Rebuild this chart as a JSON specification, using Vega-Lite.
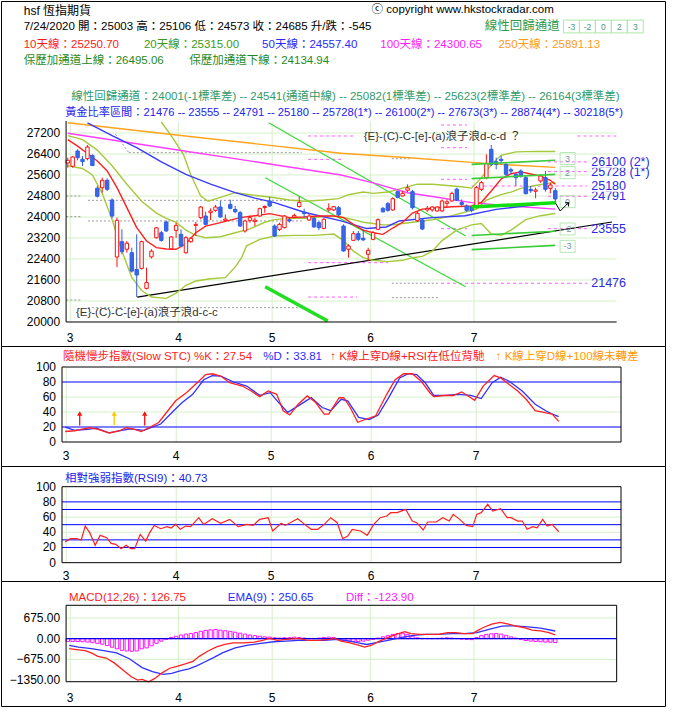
{
"$schema":"https://vega.github.io/schema/vega-lite/v6.json",
"padding":0,
"spacing":0,
"bounds":"flush",
"background":"#ffffff",
"config":{"view":{"stroke":"#000000","strokeWidth":1},"axis":{"disable":true,"domain":false,"ticks":false,"labels":false,"grid":false,"title":null},"legend":{"disable":true},"text":{"font":"Liberation Sans, Noto Sans CJK TC"}},
"resolve":{"scale":{"x":"independent","y":"independent","color":"independent"}},
"datasets":{
"one":[{"k":1}],
"months":[{"i":0.5,"m":"3"},{"i":22.5,"m":"4"},{"i":41.5,"m":"5"},{"i":61.5,"m":"6"},{"i":82.5,"m":"7"}],
"candles":[
{"i":0,"o":26057,"h":26260,"l":25880,"c":26159},{"i":1,"o":25930,"h":26320,"l":25880,"c":26286},{"i":2,"o":26514,"h":26580,"l":26160,"c":26260},{"i":3,"o":26200,"h":26320,"l":25940,"c":26110},{"i":4,"o":26222,"h":26740,"l":26160,"c":26667},{"i":5,"o":26340,"h":26390,"l":25940,"c":25960},{"i":6,"o":25090,"h":25180,"l":24740,"c":24790},{"i":7,"o":25117,"h":25500,"l":24930,"c":25397},{"i":8,"o":25400,"h":25470,"l":24990,"c":25054},{"i":9,"o":24648,"h":24710,"l":23950,"c":24038},
{"i":10,"o":22476,"h":23975,"l":22095,"c":23873},{"i":11,"o":23060,"h":23530,"l":22580,"c":22680},{"i":12,"o":22770,"h":23085,"l":22640,"c":23000},{"i":13,"o":22640,"h":22830,"l":21880,"c":21940},{"i":14,"o":22000,"h":23340,"l":20950,"c":21790},{"i":15,"o":22044,"h":23100,"l":22000,"c":23060},{"i":16,"o":21280,"h":22070,"l":21240,"c":21500},{"i":17,"o":22480,"h":22770,"l":22420,"c":22700},{"i":18,"o":23210,"h":23620,"l":23180,"c":23590},{"i":19,"o":23400,"h":23470,"l":23060,"c":23110},
{"i":20,"o":23810,"h":23870,"l":23430,"c":23470},{"i":21,"o":22790,"h":23280,"l":22760,"c":23240},{"i":22,"o":23490,"h":23780,"l":23210,"c":23680},{"i":23,"o":23340,"h":23530,"l":22860,"c":22895},{"i":24,"o":22640,"h":23276,"l":22600,"c":23213},{"i":25,"o":23060,"h":23240,"l":23020,"c":23187},{"i":26,"o":23680,"h":23810,"l":23276,"c":23720},{"i":27,"o":23975,"h":24420,"l":23910,"c":24381},{"i":28,"o":24038,"h":24200,"l":23690,"c":23720},{"i":29,"o":24165,"h":24330,"l":23880,"c":24230},
{"i":30,"o":24254,"h":24460,"l":24200,"c":24381},{"i":31,"o":24381,"h":24610,"l":23975,"c":24000},{"i":32,"o":23870,"h":24100,"l":23830,"c":23920},{"i":33,"o":24480,"h":24660,"l":24290,"c":24330},{"i":34,"o":24290,"h":24420,"l":24140,"c":24200},{"i":35,"o":24165,"h":24230,"l":23620,"c":23657},{"i":36,"o":23467,"h":23900,"l":23403,"c":23848},{"i":37,"o":23870,"h":24060,"l":23780,"c":23975},{"i":38,"o":23830,"h":23975,"l":23657,"c":23880},{"i":39,"o":24038,"h":24355,"l":24010,"c":24317},
{"i":40,"o":24360,"h":24440,"l":24165,"c":24400},{"i":41,"o":24610,"h":24760,"l":24380,"c":24420},{"i":42,"o":23657,"h":23720,"l":23240,"c":23276},{"i":43,"o":23530,"h":23784,"l":23467,"c":23720},{"i":44,"o":23594,"h":24076,"l":23568,"c":24038},{"i":45,"o":23900,"h":24000,"l":23784,"c":23850},{"i":46,"o":24000,"h":24130,"l":23950,"c":24060},{"i":47,"o":24400,"h":24780,"l":24355,"c":24550},{"i":48,"o":24190,"h":24317,"l":23975,"c":24130},{"i":49,"o":23886,"h":24130,"l":23848,"c":24038},
{"i":50,"o":23950,"h":24000,"l":23594,"c":23620},{"i":51,"o":23784,"h":23870,"l":23500,"c":23594},{"i":52,"o":23568,"h":23950,"l":23530,"c":23911},{"i":53,"o":24270,"h":24520,"l":24200,"c":24330},{"i":54,"o":24266,"h":24420,"l":24230,"c":24394},{"i":55,"o":24355,"h":24420,"l":24038,"c":24076},{"i":56,"o":23657,"h":23720,"l":22680,"c":22705},{"i":57,"o":22770,"h":22960,"l":22450,"c":22895},{"i":58,"o":23111,"h":23467,"l":23086,"c":23365},{"i":59,"o":23365,"h":23467,"l":23086,"c":23150},
{"i":60,"o":23190,"h":23530,"l":23086,"c":23130},{"i":61,"o":22580,"h":22830,"l":22324,"c":22730},{"i":62,"o":23150,"h":23467,"l":23111,"c":23403},{"i":63,"o":23530,"h":23950,"l":23494,"c":23898},{"i":64,"o":24330,"h":24381,"l":24165,"c":24200},{"i":65,"o":24508,"h":24570,"l":24200,"c":24254},{"i":66,"o":24267,"h":24750,"l":24240,"c":24698},{"i":67,"o":24965,"h":25000,"l":24710,"c":24748},{"i":68,"o":24800,"h":24990,"l":24780,"c":24900},{"i":69,"o":25020,"h":25240,"l":24950,"c":25110},
{"i":70,"o":24965,"h":25030,"l":24290,"c":24355},{"i":71,"o":23860,"h":24230,"l":23810,"c":24140},{"i":72,"o":23886,"h":23950,"l":23500,"c":23543},{"i":73,"o":24270,"h":24420,"l":24200,"c":24330},{"i":74,"o":24270,"h":24420,"l":24200,"c":24381},{"i":75,"o":24230,"h":24420,"l":24200,"c":24380},{"i":76,"o":24230,"h":24670,"l":24200,"c":24610},{"i":77,"o":24520,"h":24670,"l":24355,"c":24580},{"i":78,"o":24610,"h":24965,"l":24580,"c":24900},{"i":79,"o":25060,"h":25117,"l":24610,"c":24640},
{"i":80,"o":24550,"h":24670,"l":24381,"c":24480},{"i":81,"o":24420,"h":24480,"l":24200,"c":24254},{"i":82,"o":24380,"h":24420,"l":24180,"c":24250},{"i":83,"o":24381,"h":25180,"l":24330,"c":25117},{"i":84,"o":25054,"h":25371,"l":24990,"c":25308},{"i":85,"o":25498,"h":26387,"l":25435,"c":26032},{"i":86,"o":26578,"h":26743,"l":25943,"c":26006},{"i":87,"o":26108,"h":26260,"l":25815,"c":26006},{"i":88,"o":26200,"h":26330,"l":26006,"c":26150},{"i":89,"o":26006,"h":26070,"l":25498,"c":25625},
{"i":90,"o":25800,"h":25880,"l":25625,"c":25750},{"i":91,"o":25625,"h":25690,"l":25181,"c":25498},{"i":92,"o":25752,"h":25815,"l":25498,"c":25562},{"i":93,"o":25498,"h":25562,"l":24860,"c":24889},{"i":94,"o":25054,"h":25181,"l":24920,"c":25000},{"i":95,"o":24980,"h":25117,"l":24711,"c":25030},{"i":96,"o":25371,"h":25625,"l":25308,"c":25562},{"i":97,"o":25498,"h":25752,"l":24965,"c":25054},{"i":98,"o":25092,"h":25308,"l":24900,"c":25219},{"i":99,"o":25003,"h":25106,"l":24573,"c":24685}
],
"ma":[
{"s":"bbu","i":19,"v":27620},{"s":"bbu","i":21,"v":27100},{"s":"bbu","i":23.5,"v":26380},{"s":"bbu","i":25,"v":25600},{"s":"bbu","i":27,"v":24800},{"s":"bbu","i":28.5,"v":24600},{"s":"bbu","i":31,"v":24750},{"s":"bbu","i":34,"v":24926},{"s":"bbu","i":37,"v":24850},{"s":"bbu","i":41,"v":24760},{"s":"bbu","i":45,"v":24650},{"s":"bbu","i":48,"v":24600},{"s":"bbu","i":52,"v":24650},{"s":"bbu","i":55,"v":24700},{"s":"bbu","i":57,"v":24850},{"s":"bbu","i":60,"v":24950},{"s":"bbu","i":62,"v":24900},{"s":"bbu","i":65,"v":24950},{"s":"bbu","i":68,"v":25100},{"s":"bbu","i":71,"v":25250},{"s":"bbu","i":74,"v":25250},{"s":"bbu","i":77,"v":25200},{"s":"bbu","i":80,"v":25150},{"s":"bbu","i":82,"v":25100},{"s":"bbu","i":84,"v":25500},{"s":"bbu","i":86,"v":26000},{"s":"bbu","i":88,"v":26350},{"s":"bbu","i":91,"v":26480},{"s":"bbu","i":95,"v":26500},{"s":"bbu","i":99,"v":26495},
{"s":"bbl","i":0,"v":25950},{"s":"bbl","i":3,"v":25850},{"s":"bbl","i":5,"v":25600},{"s":"bbl","i":7,"v":24900},{"s":"bbl","i":9,"v":23900},{"s":"bbl","i":11,"v":22700},{"s":"bbl","i":13,"v":21700},{"s":"bbl","i":15,"v":21200},{"s":"bbl","i":17,"v":20950},{"s":"bbl","i":20,"v":20900},{"s":"bbl","i":22,"v":21100},{"s":"bbl","i":24,"v":21400},{"s":"bbl","i":26,"v":21560},{"s":"bbl","i":29,"v":21650},{"s":"bbl","i":32,"v":21690},{"s":"bbl","i":34,"v":22100},{"s":"bbl","i":35.3,"v":22450},{"s":"bbl","i":36.3,"v":22900},{"s":"bbl","i":39,"v":23150},{"s":"bbl","i":42,"v":23276},{"s":"bbl","i":46,"v":23300},{"s":"bbl","i":50,"v":23300},{"s":"bbl","i":54,"v":23350},{"s":"bbl","i":56,"v":23100},{"s":"bbl","i":58,"v":22700},{"s":"bbl","i":60,"v":22450},{"s":"bbl","i":62,"v":22350},{"s":"bbl","i":65,"v":22300},{"s":"bbl","i":68,"v":22350},{"s":"bbl","i":70,"v":22450},{"s":"bbl","i":72,"v":22500},{"s":"bbl","i":74,"v":22700},{"s":"bbl","i":76,"v":23100},{"s":"bbl","i":79,"v":23500},{"s":"bbl","i":82,"v":23700},{"s":"bbl","i":84,"v":23750},{"s":"bbl","i":86,"v":23350},{"s":"bbl","i":88,"v":23300},{"s":"bbl","i":90,"v":23500},{"s":"bbl","i":93,"v":23900},{"s":"bbl","i":96,"v":24050},{"s":"bbl","i":99,"v":24135},
{"s":"ma20","i":0,"v":27100},{"s":"ma20","i":3,"v":26950},{"s":"ma20","i":6,"v":26550},{"s":"ma20","i":9,"v":25950},{"s":"ma20","i":12,"v":25250},{"s":"ma20","i":15,"v":24600},{"s":"ma20","i":18,"v":24150},{"s":"ma20","i":20,"v":23950},{"s":"ma20","i":22,"v":23800},{"s":"ma20","i":24,"v":23500},{"s":"ma20","i":26,"v":23300},{"s":"ma20","i":28,"v":23210},{"s":"ma20","i":31,"v":23250},{"s":"ma20","i":34,"v":23400},{"s":"ma20","i":37,"v":23550},{"s":"ma20","i":40,"v":23800},{"s":"ma20","i":42,"v":23900},{"s":"ma20","i":45,"v":23950},{"s":"ma20","i":48,"v":23950},{"s":"ma20","i":51,"v":24000},{"s":"ma20","i":54,"v":24050},{"s":"ma20","i":56,"v":23980},{"s":"ma20","i":58,"v":23900},{"s":"ma20","i":60,"v":23800},{"s":"ma20","i":62,"v":23750},{"s":"ma20","i":64,"v":23700},{"s":"ma20","i":66,"v":23700},{"s":"ma20","i":68,"v":23750},{"s":"ma20","i":70,"v":23800},{"s":"ma20","i":72,"v":23850},{"s":"ma20","i":75,"v":23920},{"s":"ma20","i":78,"v":24050},{"s":"ma20","i":81,"v":24200},{"s":"ma20","i":83,"v":24300},{"s":"ma20","i":85,"v":24640},{"s":"ma20","i":88,"v":24850},{"s":"ma20","i":90,"v":24950},{"s":"ma20","i":92,"v":25090},{"s":"ma20","i":95,"v":25200},{"s":"ma20","i":97,"v":25270},{"s":"ma20","i":99,"v":25315},
{"s":"ma250","i":0,"v":27590},{"s":"ma250","i":27.5,"v":27010},{"s":"ma250","i":55.5,"v":26430},{"s":"ma250","i":70,"v":26250},{"s":"ma250","i":82,"v":26080},{"s":"ma250","i":90,"v":25980},{"s":"ma250","i":99,"v":25891},
{"s":"ma100","i":0,"v":27190},{"s":"ma100","i":20,"v":26620},{"s":"ma100","i":40,"v":26050},{"s":"ma100","i":55.5,"v":25600},{"s":"ma100","i":62,"v":25300},{"s":"ma100","i":69,"v":24926},{"s":"ma100","i":75,"v":24750},{"s":"ma100","i":82,"v":24546},{"s":"ma100","i":90,"v":24420},{"s":"ma100","i":99,"v":24300},
{"s":"ma50","i":4,"v":27590},{"s":"ma50","i":9,"v":27100},{"s":"ma50","i":14,"v":26640},{"s":"ma50","i":19,"v":26100},{"s":"ma50","i":24,"v":25625},{"s":"ma50","i":29,"v":25250},{"s":"ma50","i":34,"v":24926},{"s":"ma50","i":38,"v":24720},{"s":"ma50","i":42,"v":24546},{"s":"ma50","i":48,"v":24180},{"s":"ma50","i":55.5,"v":23850},{"s":"ma50","i":60.7,"v":23560},{"s":"ma50","i":64.7,"v":23620},{"s":"ma50","i":67.3,"v":23848},{"s":"ma50","i":74,"v":23975},{"s":"ma50","i":80.7,"v":24050},{"s":"ma50","i":87,"v":24290},{"s":"ma50","i":99,"v":24557},
{"s":"ma10","i":0,"v":26950},{"s":"ma10","i":2,"v":26700},{"s":"ma10","i":4,"v":26420},{"s":"ma10","i":6,"v":26133},{"s":"ma10","i":8,"v":25752},{"s":"ma10","i":10,"v":25117},{"s":"ma10","i":12,"v":24355},{"s":"ma10","i":14,"v":23594},{"s":"ma10","i":16,"v":23086},{"s":"ma10","i":18,"v":22832},{"s":"ma10","i":20,"v":22780},{"s":"ma10","i":22,"v":22770},{"s":"ma10","i":24,"v":22980},{"s":"ma10","i":26,"v":23400},{"s":"ma10","i":28,"v":23650},{"s":"ma10","i":31,"v":23784},{"s":"ma10","i":35,"v":23975},{"s":"ma10","i":38,"v":24050},{"s":"ma10","i":41,"v":24130},{"s":"ma10","i":43,"v":24050},{"s":"ma10","i":45,"v":23975},{"s":"ma10","i":48,"v":24000},{"s":"ma10","i":51,"v":24038},{"s":"ma10","i":54,"v":24040},{"s":"ma10","i":56,"v":23975},{"s":"ma10","i":58,"v":23720},{"s":"ma10","i":60,"v":23500},{"s":"ma10","i":62,"v":23400},{"s":"ma10","i":64,"v":23340},{"s":"ma10","i":66,"v":23580},{"s":"ma10","i":68,"v":23800},{"s":"ma10","i":70,"v":24150},{"s":"ma10","i":72,"v":24300},{"s":"ma10","i":75,"v":24350},{"s":"ma10","i":78,"v":24390},{"s":"ma10","i":82,"v":24420},{"s":"ma10","i":84,"v":24560},{"s":"ma10","i":86,"v":24990},{"s":"ma10","i":88,"v":25450},{"s":"ma10","i":90,"v":25650},{"s":"ma10","i":92,"v":25720},{"s":"ma10","i":94,"v":25640},{"s":"ma10","i":96,"v":25560},{"s":"ma10","i":98,"v":25400},{"s":"ma10","i":99,"v":25250}
],
"stoch":[
{"s":"D","i":0.3,"v":19.7},{"s":"D","i":2.2,"v":15.4},{"s":"D","i":4.8,"v":16.7},{"s":"D","i":6.5,"v":18.4},{"s":"D","i":9.1,"v":12.3},{"s":"D","i":11.6,"v":15.4},{"s":"D","i":13.4,"v":17.5},{"s":"D","i":16,"v":15.4},{"s":"D","i":17.7,"v":19.7},{"s":"D","i":19.4,"v":24},{"s":"D","i":22,"v":41.7},{"s":"D","i":23.7,"v":52.6},{"s":"D","i":25.8,"v":63.6},{"s":"D","i":28,"v":83},{"s":"D","i":29.7,"v":88.6},{"s":"D","i":31.4,"v":87.7},{"s":"D","i":34,"v":80},{"s":"D","i":36.6,"v":74.6},{"s":"D","i":39.2,"v":62.3},{"s":"D","i":41.3,"v":65.8},{"s":"D","i":43,"v":52.6},{"s":"D","i":44.8,"v":39.5},{"s":"D","i":46.9,"v":48.2},{"s":"D","i":49.5,"v":59.2},{"s":"D","i":51.7,"v":46},{"s":"D","i":53.4,"v":41.7},{"s":"D","i":55.5,"v":57},{"s":"D","i":56.8,"v":54.8},{"s":"D","i":59,"v":32.9},{"s":"D","i":61.1,"v":29.8},{"s":"D","i":62.9,"v":36},{"s":"D","i":65,"v":59.2},{"s":"D","i":67.2,"v":85.5},{"s":"D","i":68.9,"v":91.2},{"s":"D","i":70.6,"v":89.9},{"s":"D","i":72.3,"v":79},{"s":"D","i":74,"v":62.3},{"s":"D","i":76.2,"v":62.3},{"s":"D","i":78.8,"v":63.6},{"s":"D","i":81.4,"v":62.3},{"s":"D","i":83.5,"v":57.9},{"s":"D","i":85.7,"v":79},{"s":"D","i":87.4,"v":86.4},{"s":"D","i":89.1,"v":81},{"s":"D","i":91.7,"v":68},{"s":"D","i":94.3,"v":50.4},{"s":"D","i":96.4,"v":41.7},{"s":"D","i":97.7,"v":37.3},{"s":"D","i":99,"v":33.8},
{"s":"K","i":0.3,"v":14},{"s":"K","i":2.2,"v":15},{"s":"K","i":3.9,"v":17.5},{"s":"K","i":5.2,"v":19},{"s":"K","i":6.9,"v":16.7},{"s":"K","i":9.1,"v":12},{"s":"K","i":11.2,"v":15},{"s":"K","i":12.5,"v":19},{"s":"K","i":14.2,"v":16.7},{"s":"K","i":15.5,"v":14},{"s":"K","i":17.2,"v":19.7},{"s":"K","i":19,"v":26},{"s":"K","i":21.1,"v":44},{"s":"K","i":22.4,"v":55},{"s":"K","i":24.6,"v":66},{"s":"K","i":26.7,"v":79},{"s":"K","i":28.4,"v":90},{"s":"K","i":29.7,"v":91},{"s":"K","i":31.4,"v":88},{"s":"K","i":33.2,"v":79},{"s":"K","i":35.7,"v":74.6},{"s":"K","i":37.5,"v":68},{"s":"K","i":39.2,"v":60.5},{"s":"K","i":40.9,"v":68},{"s":"K","i":42.6,"v":63.6},{"s":"K","i":43.9,"v":41.7},{"s":"K","i":45.2,"v":36},{"s":"K","i":46.9,"v":50.4},{"s":"K","i":48.7,"v":61.4},{"s":"K","i":50.4,"v":52.6},{"s":"K","i":52.1,"v":37.3},{"s":"K","i":53,"v":37.3},{"s":"K","i":55.1,"v":59},{"s":"K","i":56,"v":59},{"s":"K","i":57.3,"v":46},{"s":"K","i":58.8,"v":26.3},{"s":"K","i":60.3,"v":30},{"s":"K","i":62.4,"v":35},{"s":"K","i":64.6,"v":63.6},{"s":"K","i":66.3,"v":83},{"s":"K","i":68,"v":91},{"s":"K","i":69.7,"v":91},{"s":"K","i":71.5,"v":81},{"s":"K","i":73.2,"v":66},{"s":"K","i":74,"v":60.5},{"s":"K","i":76.2,"v":62},{"s":"K","i":77.9,"v":62},{"s":"K","i":79.6,"v":66.7},{"s":"K","i":80.9,"v":61.4},{"s":"K","i":82.2,"v":55.7},{"s":"K","i":83.9,"v":74.6},{"s":"K","i":86.1,"v":88.6},{"s":"K","i":87.4,"v":85.5},{"s":"K","i":89.1,"v":76.8},{"s":"K","i":90.8,"v":68},{"s":"K","i":92.5,"v":57},{"s":"K","i":94.3,"v":41.7},{"s":"K","i":96,"v":39.5},{"s":"K","i":97.7,"v":37.3},{"s":"K","i":99,"v":27.5}
],
"rsi":[
{"i":0.3,"v":27.2},{"i":1.3,"v":31.6},{"i":2.6,"v":31.6},{"i":3.5,"v":29.8},{"i":4.3,"v":48.2},{"i":5.2,"v":39.5},{"i":6.3,"v":22.8},{"i":7.3,"v":36},{"i":8.6,"v":32.9},{"i":9.5,"v":25.4},{"i":10.4,"v":24.1},{"i":11.5,"v":18.4},{"i":12.5,"v":22.8},{"i":13.4,"v":18.4},{"i":14.2,"v":18.4},{"i":15.3,"v":37.3},{"i":16.4,"v":28.5},{"i":17.2,"v":39.5},{"i":18.1,"v":49},{"i":19.4,"v":44.7},{"i":20.7,"v":47.4},{"i":21.5,"v":45.6},{"i":22.4,"v":50.4},{"i":23.3,"v":43.9},{"i":24.4,"v":48.2},{"i":25.4,"v":47.4},{"i":27,"v":59.2},{"i":28,"v":50.4},{"i":29.7,"v":57.9},{"i":31.4,"v":51.8},{"i":33.2,"v":57},{"i":34.9,"v":47.4},{"i":36.6,"v":50.4},{"i":37.9,"v":49},{"i":39.2,"v":57},{"i":40.9,"v":59.2},{"i":41.8,"v":41.7},{"i":43.5,"v":51.8},{"i":44.3,"v":49},{"i":46.8,"v":57.9},{"i":48.2,"v":50.4},{"i":49.5,"v":43.9},{"i":50.8,"v":43.9},{"i":52.1,"v":50.4},{"i":53.4,"v":59.2},{"i":54.7,"v":52.6},{"i":55.8,"v":31.6},{"i":56.8,"v":35.1},{"i":57.7,"v":43.9},{"i":59.4,"v":41.7},{"i":60.7,"v":36},{"i":62,"v":50.4},{"i":63.3,"v":59.2},{"i":64.6,"v":61.4},{"i":65.4,"v":65.8},{"i":66.7,"v":65.8},{"i":68.4,"v":70.2},{"i":69.7,"v":54.8},{"i":70.6,"v":52.6},{"i":71.9,"v":43},{"i":72.8,"v":53.5},{"i":74.5,"v":53.5},{"i":75.8,"v":59.2},{"i":77.1,"v":54.8},{"i":77.9,"v":63.6},{"i":79.2,"v":57},{"i":80.5,"v":49},{"i":81.8,"v":47.4},{"i":82.6,"v":63.6},{"i":83.5,"v":65.8},{"i":84.8,"v":76.8},{"i":85.8,"v":68},{"i":87.4,"v":71},{"i":88.7,"v":59.2},{"i":89.5,"v":59.2},{"i":90.8,"v":54.8},{"i":91.7,"v":54.8},{"i":92.7,"v":43.9},{"i":93.8,"v":47.4},{"i":94.7,"v":46},{"i":95.8,"v":57},{"i":96.7,"v":48.2},{"i":97.7,"v":50.4},{"i":99,"v":40.7}
],
"macd":[
{"s":"ema","i":0.3,"v":-221},{"s":"ema","i":2.2,"v":-277},{"s":"ema","i":4.8,"v":-321},{"s":"ema","i":7.3,"v":-387},{"s":"ema","i":9.9,"v":-465},{"s":"ema","i":12.5,"v":-653},{"s":"ema","i":15.1,"v":-941},{"s":"ema","i":17.2,"v":-1074},{"s":"ema","i":19.4,"v":-1162},{"s":"ema","i":21.1,"v":-1129},{"s":"ema","i":22.8,"v":-1052},{"s":"ema","i":24.6,"v":-985},{"s":"ema","i":26.3,"v":-875},{"s":"ema","i":28,"v":-742},{"s":"ema","i":29.7,"v":-609},{"s":"ema","i":31.4,"v":-465},{"s":"ema","i":34,"v":-299},{"s":"ema","i":36.6,"v":-210},{"s":"ema","i":39.2,"v":-155},{"s":"ema","i":41.8,"v":-100},{"s":"ema","i":44.3,"v":-77},{"s":"ema","i":46.9,"v":-55},{"s":"ema","i":49.5,"v":-55},{"s":"ema","i":52.1,"v":-55},{"s":"ema","i":54.7,"v":-22},{"s":"ema","i":56.4,"v":-55},{"s":"ema","i":59,"v":-133},{"s":"ema","i":60.7,"v":-188},{"s":"ema","i":62.4,"v":-133},{"s":"ema","i":65,"v":-55},{"s":"ema","i":67.6,"v":33},{"s":"ema","i":70.2,"v":111},{"s":"ema","i":72.7,"v":144},{"s":"ema","i":75.3,"v":144},{"s":"ema","i":77.9,"v":166},{"s":"ema","i":80.5,"v":166},{"s":"ema","i":83.1,"v":199},{"s":"ema","i":85.7,"v":310},{"s":"ema","i":88.2,"v":410},{"s":"ema","i":90.8,"v":421},{"s":"ema","i":93.4,"v":387},{"s":"ema","i":96,"v":343},{"s":"ema","i":99,"v":251},
{"s":"macd","i":0.3,"v":-321},{"s":"macd","i":1.8,"v":-354},{"s":"macd","i":3.5,"v":-387},{"s":"macd","i":4.8,"v":-465},{"s":"macd","i":6.1,"v":-575},{"s":"macd","i":7.8,"v":-631},{"s":"macd","i":9.5,"v":-797},{"s":"macd","i":11.2,"v":-1018},{"s":"macd","i":12.9,"v":-1240},{"s":"macd","i":14.2,"v":-1350},{"s":"macd","i":15.1,"v":-1328},{"s":"macd","i":16.4,"v":-1406},{"s":"macd","i":17.7,"v":-1295},{"s":"macd","i":19,"v":-1129},{"s":"macd","i":20.7,"v":-963},{"s":"macd","i":22,"v":-908},{"s":"macd","i":23.7,"v":-830},{"s":"macd","i":25.4,"v":-742},{"s":"macd","i":26.7,"v":-575},{"s":"macd","i":28.4,"v":-410},{"s":"macd","i":30.2,"v":-266},{"s":"macd","i":31.9,"v":-188},{"s":"macd","i":33.6,"v":-133},{"s":"macd","i":35.7,"v":-133},{"s":"macd","i":37.9,"v":-111},{"s":"macd","i":39.6,"v":-55},{"s":"macd","i":40.9,"v":11},{"s":"macd","i":42.6,"v":-55},{"s":"macd","i":44.3,"v":-22},{"s":"macd","i":46.9,"v":11},{"s":"macd","i":48.7,"v":-55},{"s":"macd","i":50.8,"v":-55},{"s":"macd","i":53,"v":-22},{"s":"macd","i":54.2,"v":11},{"s":"macd","i":55.5,"v":-77},{"s":"macd","i":57.3,"v":-133},{"s":"macd","i":59,"v":-210},{"s":"macd","i":60.3,"v":-277},{"s":"macd","i":61.6,"v":-221},{"s":"macd","i":63.3,"v":-77},{"s":"macd","i":65,"v":33},{"s":"macd","i":66.7,"v":144},{"s":"macd","i":68.4,"v":232},{"s":"macd","i":69.7,"v":166},{"s":"macd","i":71.5,"v":144},{"s":"macd","i":73.6,"v":144},{"s":"macd","i":75.3,"v":144},{"s":"macd","i":77.1,"v":199},{"s":"macd","i":78.8,"v":199},{"s":"macd","i":80.5,"v":166},{"s":"macd","i":82.2,"v":166},{"s":"macd","i":83.1,"v":255},{"s":"macd","i":84.4,"v":365},{"s":"macd","i":86.1,"v":476},{"s":"macd","i":87.8,"v":531},{"s":"macd","i":89.5,"v":476},{"s":"macd","i":90.8,"v":421},{"s":"macd","i":92.5,"v":365},{"s":"macd","i":94.3,"v":277},{"s":"macd","i":96,"v":255},{"s":"macd","i":97.7,"v":199},{"s":"macd","i":99,"v":127}
],
"diff":[
{"i":0,"v":-90},{"i":1,"v":-90},{"i":2,"v":-90},{"i":3,"v":-100},{"i":4,"v":-110},{"i":5,"v":-130},{"i":6,"v":-150},{"i":7,"v":-180},{"i":8,"v":-220},{"i":9,"v":-280},{"i":10,"v":-330},{"i":11,"v":-380},{"i":12,"v":-400},{"i":13,"v":-410},{"i":14,"v":-400},{"i":15,"v":-330},{"i":16,"v":-300},{"i":17,"v":-230},{"i":18,"v":-150},{"i":19,"v":-80},{"i":20,"v":-20},{"i":21,"v":40},{"i":22,"v":80},{"i":23,"v":120},{"i":24,"v":150},{"i":25,"v":170},{"i":26,"v":200},{"i":27,"v":240},{"i":28,"v":270},{"i":29,"v":290},{"i":30,"v":300},{"i":31,"v":280},{"i":32,"v":260},{"i":33,"v":240},{"i":34,"v":210},{"i":35,"v":180},{"i":36,"v":150},{"i":37,"v":120},{"i":38,"v":100},{"i":39,"v":80},{"i":40,"v":60},{"i":41,"v":50},{"i":42,"v":30},{"i":43,"v":20},{"i":44,"v":30},{"i":45,"v":30},{"i":46,"v":50},{"i":47,"v":40},{"i":48,"v":20},{"i":49,"v":10},{"i":50,"v":10},{"i":51,"v":20},{"i":52,"v":40},{"i":53,"v":50},{"i":54,"v":40},{"i":55,"v":-30},{"i":56,"v":-60},{"i":57,"v":-80},{"i":58,"v":-90},{"i":59,"v":-90},{"i":60,"v":-80},{"i":61,"v":-50},{"i":62,"v":-20},{"i":63,"v":20},{"i":64,"v":60},{"i":65,"v":100},{"i":66,"v":140},{"i":67,"v":170},{"i":68,"v":180},{"i":69,"v":140},{"i":70,"v":80},{"i":71,"v":30},{"i":72,"v":10},{"i":73,"v":10},{"i":74,"v":5},{"i":75,"v":10},{"i":76,"v":20},{"i":77,"v":30},{"i":78,"v":20},{"i":79,"v":10},{"i":80,"v":-10},{"i":81,"v":-20},{"i":82,"v":-30},{"i":83,"v":40},{"i":84,"v":100},{"i":85,"v":140},{"i":86,"v":160},{"i":87,"v":170},{"i":88,"v":150},{"i":89,"v":110},{"i":90,"v":60},{"i":91,"v":20},{"i":92,"v":-20},{"i":93,"v":-60},{"i":94,"v":-80},{"i":95,"v":-90},{"i":96,"v":-100},{"i":97,"v":-110},{"i":98,"v":-115},{"i":99,"v":-124}
]
},
"vconcat":[
{"width":664,"height":345,
"layer":[
{"data":{"values":[{"v":20800},{"v":21600},{"v":22400},{"v":23200},{"v":24000},{"v":24800},{"v":25600},{"v":26400},{"v":27200}]},"mark":{"type":"rule","color":"#d4f0c8"},
 "encoding":{"x":{"datum":-0.34,"type":"quantitative","scale":{"domain":[-12.54,120.26],"nice":false,"zero":false}},"x2":{"datum":111.46},"y":{"field":"v","type":"quantitative","scale":{"domain":[19085.7,32228.6],"nice":false,"zero":false}}}},
{"data":{"name":"months"},"mark":{"type":"rule","color":"#d4f0c8"},"encoding":{"x":{"field":"i","type":"quantitative"},"y":{"datum":20000},"y2":{"datum":27640}}},
{"data":{"values":[{"x1":9.7,"y1":27150,"x2":12.4,"y2":26451},{"x1":12.4,"y1":26451,"x2":47.5,"y2":26451},{"x1":4.1,"y1":24635,"x2":47.5,"y2":24635},{"x1":4.1,"y1":23848,"x2":47.5,"y2":23848},{"x1":-0.3,"y1":24800,"x2":2.9,"y2":24800},{"x1":-0.3,"y1":24013,"x2":2.9,"y2":24013},{"x1":-0.3,"y1":20838,"x2":2.9,"y2":20838},{"x1":4.1,"y1":20546,"x2":47.5,"y2":20546},{"x1":65.8,"y1":26222,"x2":69.8,"y2":26222},{"x1":65.8,"y1":21476,"x2":75.5,"y2":21476},{"x1":65.8,"y1":20927,"x2":75.3,"y2":20927}]},
 "mark":{"type":"rule","color":"#9a9a9a","strokeDash":[2,2]},"encoding":{"x":{"field":"x1","type":"quantitative"},"x2":{"field":"x2"},"y":{"field":"y1","type":"quantitative"},"y2":{"field":"y2"}}},
{"data":{"values":[{"a":48.8,"b":58,"p":27086},{"a":48.8,"b":55.5,"p":26197},{"a":48.8,"b":65.1,"p":22260},{"a":48.8,"b":58.8,"p":20950},{"a":75.8,"b":81.1,"p":27505},{"a":75.8,"b":81.1,"p":26641},{"a":75.8,"b":81.1,"p":25435},{"a":75.8,"b":81.1,"p":23555},{"a":75.8,"b":105.5,"p":21476},{"a":97.5,"b":105.5,"p":26100},{"a":97.5,"b":105.5,"p":25728},{"a":82,"b":105.5,"p":25180},{"a":97.5,"b":105.5,"p":24791},{"a":97.5,"b":105.5,"p":23555},{"a":103.5,"b":111.5,"p":27086}]},
 "mark":{"type":"rule","color":"#ff5cff","strokeDash":[3,3]},"encoding":{"x":{"field":"a","type":"quantitative"},"x2":{"field":"b"},"y":{"field":"p","type":"quantitative"}}},
{"data":{"values":[{"g":"a","i":40.8,"v":27590},{"g":"a","i":80.8,"v":23276},{"g":"b","i":40.1,"v":25497},{"g":"b","i":80.8,"v":21345}]},"mark":{"type":"line","color":"#3ad83a","strokeWidth":1.2},"encoding":{"x":{"field":"i","type":"quantitative"},"y":{"field":"v","type":"quantitative"},"detail":{"field":"g"}}},
{"data":{"values":[{"i":40.1,"v":21345},{"i":52.8,"v":20038}]},"mark":{"type":"line","color":"#22dd22","strokeWidth":3.5},"encoding":{"x":{"field":"i","type":"quantitative"},"y":{"field":"v","type":"quantitative"}}},
{"data":{"values":[{"i":14.1,"v":20950},{"i":110.5,"v":23810}]},"mark":{"type":"line","color":"#000000","strokeWidth":1.2},"encoding":{"x":{"field":"i","type":"quantitative"},"y":{"field":"v","type":"quantitative"}}},
{"data":{"name":"ma"},"mark":{"type":"line","strokeWidth":1.4},"encoding":{"x":{"field":"i","type":"quantitative"},"y":{"field":"v","type":"quantitative"},"color":{"field":"s","type":"nominal","scale":{"domain":["bbu","bbl","ma20","ma250","ma100","ma50","ma10"],"range":["#a6c93c","#a6c93c","#a6c93c","#ffa31a","#ff3cff","#3a3aff","#ff2020"]},"legend":null}}},
{"data":{"name":"candles"},"mark":{"type":"rule","strokeWidth":1},"encoding":{"x":{"field":"i","type":"quantitative"},"y":{"field":"l","type":"quantitative"},"y2":{"field":"h"},"color":{"condition":{"test":"datum.c >= datum.o","value":"#ff1010"},"value":"#2f5fe8"}}},
{"data":{"name":"candles"},"mark":{"type":"bar","width":3.4,"strokeWidth":1},"encoding":{"x":{"field":"i","type":"quantitative"},"y":{"field":"o","type":"quantitative"},"y2":{"field":"c"},"fill":{"condition":{"test":"datum.c >= datum.o","value":"#ffffff"},"value":"#3a66e8"},"stroke":{"condition":{"test":"datum.c >= datum.o","value":"#ff1010"},"value":"#2f5fe8"}}},
{"data":{"values":[{"k":"3","i":82,"v":26003},{"k":"3","i":99,"v":26164},{"k":"2","i":82,"v":25462},{"k":"2","i":99,"v":25623},{"k":"-2","i":82,"v":23298},{"k":"-2","i":99,"v":23459},{"k":"-3","i":82,"v":22757},{"k":"-3","i":99,"v":22918}]},"mark":{"type":"line","color":"#38cc38","strokeWidth":1.6},"encoding":{"x":{"field":"i","type":"quantitative"},"y":{"field":"v","type":"quantitative"},"detail":{"field":"k"}}},
{"data":{"values":[{"i":82,"v":24380},{"i":99,"v":24541}]},"mark":{"type":"line","color":"#10e010","strokeWidth":3.5},"encoding":{"x":{"field":"i","type":"quantitative"},"y":{"field":"v","type":"quantitative"}}},
{"data":{"values":[{"t":"3","v":26228},{"t":"2","v":25690},{"t":"0","v":24584},{"t":"-2","v":23543},{"t":"-3","v":22882}]},"mark":{"type":"point","shape":"M-1,-0.8L1,-0.8L1,0.8L-1,0.8Z","size":225,"filled":false,"stroke":"#b5e6b5","strokeWidth":1,"opacity":1},"encoding":{"x":{"datum":101.5},"y":{"field":"v","type":"quantitative"}}},
{"data":{"values":[{"t":"3","v":26228},{"t":"2","v":25690},{"t":"0","v":24584},{"t":"-2","v":23543},{"t":"-3","v":22882}]},"mark":{"type":"text","fontSize":9,"color":"#6f9a9a"},"encoding":{"x":{"datum":101.5},"y":{"field":"v","type":"quantitative"},"text":{"field":"t"}}},
{"data":{"values":[{"i":99,"v":24546},{"i":100,"v":24229},{"i":101,"v":24419},{"i":101.7,"v":24545}]},"mark":{"type":"line","color":"#000000","strokeWidth":1},"encoding":{"x":{"field":"i","type":"quantitative"},"y":{"field":"v","type":"quantitative"}}},
{"data":{"values":[{"i":101.0,"v":24545},{"i":101.7,"v":24545},{"i":101.7,"v":24400}]},"mark":{"type":"line","color":"#000000","strokeWidth":1},"encoding":{"x":{"field":"i","type":"quantitative"},"y":{"field":"v","type":"quantitative"}}},
{"data":{"values":[{"t":"25728 (1*)","v":25728},{"t":"24791","v":24791},{"t":"23555","v":23555},{"t":"21476","v":21476}]},"mark":{"type":"text","align":"left","baseline":"middle","fontSize":12.5,"color":"#2a2ae0"},"encoding":{"x":{"datum":106.3},"y":{"field":"v","type":"quantitative"},"text":{"field":"t"}}},
{"data":{"name":"one"},"mark":{"type":"rect","fill":"#ffffff"},"encoding":{"x":{"datum":106},"x2":{"datum":118},"y":{"datum":25880},"y2":{"datum":26320}}},
{"data":{"name":"one"},"mark":{"type":"rect","fill":"#ffffff"},"encoding":{"x":{"datum":106},"x2":{"datum":118},"y":{"datum":24960},"y2":{"datum":25400}}},
{"data":{"values":[{"t":"26100 (2*)","v":26100},{"t":"25180","v":25180}]},"mark":{"type":"text","align":"left","baseline":"middle","fontSize":12.5,"color":"#2a2ae0"},"encoding":{"x":{"datum":106.3},"y":{"field":"v","type":"quantitative"},"text":{"field":"t"}}},
{"data":{"name":"one"},"mark":{"type":"text","text":"{E}-(C)-C-[e]-(a)浪子浪d-c-c","align":"left","baseline":"middle","fontSize":11.5,"color":"#333333"},"encoding":{"x":{"datum":1.66},"y":{"datum":20324}}},
{"data":{"name":"one"},"mark":{"type":"text","text":"{E}-(C)-C-[e]-(a)浪子浪d-c-d ？","align":"left","baseline":"middle","fontSize":11.5,"color":"#333333"},"encoding":{"x":{"datum":60.1},"y":{"datum":27060}}},
{"data":{"name":"one"},"mark":{"type":"rule","color":"#000000"},"encoding":{"x":{"datum":-0.34},"y":{"datum":20000},"y2":{"datum":27660}}},
{"data":{"name":"one"},"mark":{"type":"rule","color":"#000000"},"encoding":{"x":{"datum":-0.34},"x2":{"datum":111.46},"y":{"datum":20000}}},
{"data":{"values":[{"v":20000},{"v":20800},{"v":21600},{"v":22400},{"v":23200},{"v":24000},{"v":24800},{"v":25600},{"v":26400},{"v":27200}]},"mark":{"type":"text","align":"right","baseline":"middle","fontSize":12,"color":"#000000"},"encoding":{"x":{"datum":-1.54},"y":{"field":"v","type":"quantitative"},"text":{"field":"v","type":"quantitative","format":"d"}}},
{"data":{"name":"months"},"mark":{"type":"text","baseline":"middle","fontSize":12,"color":"#000000"},"encoding":{"x":{"field":"i","type":"quantitative"},"y":{"datum":19390},"text":{"field":"m"}}},
{"data":{"name":"one"},"mark":{"type":"text","text":"hsf 恆指期貨","align":"left","baseline":"middle","fontSize":12,"color":"#000000"},"encoding":{"x":{"datum":-8.94},"y":{"datum":31860}}},
{"data":{"name":"one"},"mark":{"type":"text","text":"ⓒ copyright www.hkstockradar.com","align":"left","baseline":"middle","fontSize":11.5,"color":"#000000"},"encoding":{"x":{"datum":61.7},"y":{"datum":31867}}},
{"data":{"name":"one"},"mark":{"type":"text","text":"7/24/2020 開：25003 高：25106 低：24573 收：24685 升/跌：-545","align":"left","baseline":"middle","fontSize":11.5,"color":"#000000"},"encoding":{"x":{"datum":-8.94},"y":{"datum":31240}}},
{"data":{"name":"one"},"mark":{"type":"text","text":"線性回歸通道","align":"left","baseline":"middle","fontSize":12.5,"color":"#2e9a4e"},"encoding":{"x":{"datum":84.66},"y":{"datum":31276}}},
{"data":{"values":[{"t":"-3","i":102.28},{"t":"-2","i":105.52},{"t":"0","i":108.76},{"t":"2","i":112.0},{"t":"3","i":115.24}]},"mark":{"type":"point","shape":"M-1,-0.8L1,-0.8L1,0.8L-1,0.8Z","size":256,"filled":false,"stroke":"#a8e8a8","strokeWidth":1,"opacity":1},"encoding":{"x":{"field":"i","type":"quantitative"},"y":{"datum":31257}}},
{"data":{"values":[{"t":"-3","i":102.28},{"t":"-2","i":105.52},{"t":"0","i":108.76},{"t":"2","i":112.0},{"t":"3","i":115.24}]},"mark":{"type":"text","baseline":"middle","fontSize":8.5,"color":"#4a9a7a"},"encoding":{"x":{"field":"i","type":"quantitative"},"y":{"datum":31257},"text":{"field":"t"}}},
{"data":{"name":"one"},"mark":{"type":"text","text":"10天線：25250.70","align":"left","baseline":"middle","fontSize":11.5,"color":"#ff1a1a"},"encoding":{"x":{"datum":-8.94},"y":{"datum":30552}}},
{"data":{"name":"one"},"mark":{"type":"text","text":"20天線：25315.00","align":"left","baseline":"middle","fontSize":11.5,"color":"#3a9a1a"},"encoding":{"x":{"datum":15.46},"y":{"datum":30552}}},
{"data":{"name":"one"},"mark":{"type":"text","text":"50天線：24557.40","align":"left","baseline":"middle","fontSize":11.5,"color":"#2a2aff"},"encoding":{"x":{"datum":39.46},"y":{"datum":30552}}},
{"data":{"name":"one"},"mark":{"type":"text","text":"100天線：24300.65","align":"left","baseline":"middle","fontSize":11.5,"color":"#ff1aff"},"encoding":{"x":{"datum":63.46},"y":{"datum":30552}}},
{"data":{"name":"one"},"mark":{"type":"text","text":"250天線：25891.13","align":"left","baseline":"middle","fontSize":11.5,"color":"#ff9a1a"},"encoding":{"x":{"datum":87.46},"y":{"datum":30552}}},
{"data":{"name":"one"},"mark":{"type":"text","text":"保歷加通道上線：26495.06","align":"left","baseline":"middle","fontSize":11.5,"color":"#1f8a1f"},"encoding":{"x":{"datum":-8.94},"y":{"datum":29943}}},
{"data":{"name":"one"},"mark":{"type":"text","text":"保歷加通道下線：24134.94","align":"left","baseline":"middle","fontSize":11.5,"color":"#1f8a1f"},"encoding":{"x":{"datum":24.66},"y":{"datum":29943}}},
{"data":{"name":"one"},"mark":{"type":"text","text":"線性回歸通道：24001(-1標準差) -- 24541(通道中線) -- 25082(1標準差) -- 25623(2標準差) -- 26164(3標準差)","align":"center","baseline":"middle","fontSize":11.5,"color":"#2f9a6a"},"encoding":{"x":{"datum":56.4},"y":{"datum":28571}}},
{"data":{"name":"one"},"mark":{"type":"text","text":"黃金比率區間：21476 -- 23555 -- 24791 -- 25180 -- 25728(1*) -- 26100(2*) -- 27673(3*) -- 28874(4*) -- 30218(5*)","align":"center","baseline":"middle","fontSize":11.2,"color":"#2222ee"},"encoding":{"x":{"datum":56.1},"y":{"datum":27962}}}
]},
{"width":664,"height":120,
"layer":[
{"data":{"name":"months"},"mark":{"type":"rule","color":"#d4f0c8"},"encoding":{"x":{"field":"i","type":"quantitative","scale":{"domain":[-12.54,120.26],"nice":false,"zero":false}},"y":{"datum":0,"type":"quantitative","scale":{"domain":[-32,128],"nice":false,"zero":false}},"y2":{"datum":100}}},
{"data":{"values":[{"v":40},{"v":60}]},"mark":{"type":"rule","color":"#d4f0c8"},"encoding":{"x":{"datum":-0.34},"x2":{"datum":111.46},"y":{"field":"v","type":"quantitative"}}},
{"data":{"values":[{"v":20},{"v":80}]},"mark":{"type":"rule","color":"#0000ff","strokeWidth":1},"encoding":{"x":{"datum":-0.34},"x2":{"datum":111.46},"y":{"field":"v","type":"quantitative"}}},
{"data":{"name":"stoch"},"mark":{"type":"line","strokeWidth":1.3},"encoding":{"x":{"field":"i","type":"quantitative"},"y":{"field":"v","type":"quantitative"},"color":{"field":"s","type":"nominal","scale":{"domain":["D","K"],"range":["#3030ff","#ff2020"]},"legend":null}}},
{"data":{"values":[{"i":3.2},{"i":16.2}]},"mark":{"type":"rule","color":"#ff1010","strokeWidth":1.3},"encoding":{"x":{"field":"i","type":"quantitative"},"y":{"datum":22},"y2":{"datum":37}}},
{"data":{"values":[{"i":3.2},{"i":16.2}]},"mark":{"type":"point","shape":"triangle-up","size":28,"filled":true,"color":"#ff1010","opacity":1},"encoding":{"x":{"field":"i","type":"quantitative"},"y":{"datum":38}}},
{"data":{"values":[{"i":10.1}]},"mark":{"type":"rule","color":"#ffc400","strokeWidth":1.3},"encoding":{"x":{"field":"i","type":"quantitative"},"y":{"datum":22},"y2":{"datum":37}}},
{"data":{"values":[{"i":10.1}]},"mark":{"type":"point","shape":"triangle-up","size":28,"filled":true,"color":"#ffc400","opacity":1},"encoding":{"x":{"field":"i","type":"quantitative"},"y":{"datum":38}}},
{"data":{"name":"one"},"mark":{"type":"rect","fillOpacity":0,"stroke":"#000000","strokeWidth":1},"encoding":{"x":{"datum":-0.34},"x2":{"datum":111.46},"y":{"datum":0},"y2":{"datum":100}}},
{"data":{"values":[{"v":0},{"v":20},{"v":40},{"v":60},{"v":80},{"v":100}]},"mark":{"type":"text","align":"right","baseline":"middle","fontSize":12,"color":"#000000"},"encoding":{"x":{"datum":-1.54},"y":{"field":"v","type":"quantitative"},"text":{"field":"v","type":"quantitative","format":"d"}}},
{"data":{"name":"months"},"mark":{"type":"text","baseline":"middle","fontSize":12,"color":"#000000"},"encoding":{"x":{"field":"i","type":"quantitative"},"y":{"datum":-19.3},"text":{"field":"m"}}},
{"data":{"name":"one"},"mark":{"type":"text","text":"隨機慢步指數(Slow STC) %K：27.54","align":"left","baseline":"middle","fontSize":11.5,"color":"#ff1a1a"},"encoding":{"x":{"datum":-0.14},"y":{"datum":112.7}}},
{"data":{"name":"one"},"mark":{"type":"text","text":"%D：33.81","align":"left","baseline":"middle","fontSize":11.5,"color":"#2a2aff"},"encoding":{"x":{"datum":39.9},"y":{"datum":112.7}}},
{"data":{"name":"one"},"mark":{"type":"text","text":"↑ K線上穿D線+RSI在低位背馳","align":"left","baseline":"middle","fontSize":11.5,"color":"#ff1a1a"},"encoding":{"x":{"datum":53.3},"y":{"datum":112.7}}},
{"data":{"name":"one"},"mark":{"type":"text","text":"↑ K線上穿D線+100線未轉差","align":"left","baseline":"middle","fontSize":11.5,"color":"#ff9a00"},"encoding":{"x":{"datum":86.4},"y":{"datum":112.7}}}
]},
{"width":664,"height":115,
"layer":[
{"data":{"name":"months"},"mark":{"type":"rule","color":"#d4f0c8"},"encoding":{"x":{"field":"i","type":"quantitative","scale":{"domain":[-12.54,120.26],"nice":false,"zero":false}},"y":{"datum":0,"type":"quantitative","scale":{"domain":[-24.1,127.2],"nice":false,"zero":false}},"y2":{"datum":100}}},
{"data":{"values":[{"v":40},{"v":60}]},"mark":{"type":"rule","color":"#d4f0c8"},"encoding":{"x":{"datum":-0.34},"x2":{"datum":111.46},"y":{"field":"v","type":"quantitative"}}},
{"data":{"values":[{"v":20},{"v":30},{"v":50},{"v":70},{"v":80}]},"mark":{"type":"rule","color":"#0000ff","strokeWidth":1},"encoding":{"x":{"datum":-0.34},"x2":{"datum":111.46},"y":{"field":"v","type":"quantitative"}}},
{"data":{"name":"rsi"},"mark":{"type":"line","color":"#ff2020","strokeWidth":1.2},"encoding":{"x":{"field":"i","type":"quantitative"},"y":{"field":"v","type":"quantitative"}}},
{"data":{"name":"one"},"mark":{"type":"rect","fillOpacity":0,"stroke":"#000000","strokeWidth":1},"encoding":{"x":{"datum":-0.34},"x2":{"datum":111.46},"y":{"datum":0},"y2":{"datum":100}}},
{"data":{"values":[{"v":0},{"v":20},{"v":40},{"v":60},{"v":80},{"v":100}]},"mark":{"type":"text","align":"right","baseline":"middle","fontSize":12,"color":"#000000"},"encoding":{"x":{"datum":-1.54},"y":{"field":"v","type":"quantitative"},"text":{"field":"v","type":"quantitative","format":"d"}}},
{"data":{"name":"months"},"mark":{"type":"text","baseline":"middle","fontSize":12,"color":"#000000"},"encoding":{"x":{"field":"i","type":"quantitative"},"y":{"datum":-17.5},"text":{"field":"m"}}},
{"data":{"name":"one"},"mark":{"type":"text","text":"相對強弱指數(RSI9)：40.73","align":"left","baseline":"middle","fontSize":11.5,"color":"#2222ee"},"encoding":{"x":{"datum":0.26},"y":{"datum":110.5}}}
]},
{"width":664,"height":125,
"layer":[
{"data":{"name":"months"},"mark":{"type":"rule","color":"#d4f0c8"},"encoding":{"x":{"field":"i","type":"quantitative","scale":{"domain":[-12.54,120.26],"nice":false,"zero":false}},"y":{"datum":-1402,"type":"quantitative","scale":{"domain":[-2194,1881],"nice":false,"zero":false}},"y2":{"datum":1089}}},
{"data":{"values":[{"v":675},{"v":-675}]},"mark":{"type":"rule","color":"#d4f0c8"},"encoding":{"x":{"datum":-0.34},"x2":{"datum":111.46},"y":{"field":"v","type":"quantitative"}}},
{"data":{"name":"diff"},"mark":{"type":"bar","width":3.4,"fill":"#ffffff","stroke":"#ff10ff","strokeWidth":1},"encoding":{"x":{"field":"i","type":"quantitative"},"y":{"field":"v","type":"quantitative"},"y2":{"datum":0}}},
{"data":{"name":"one"},"mark":{"type":"rule","color":"#0000ee","strokeWidth":1.3},"encoding":{"x":{"datum":-0.34},"x2":{"datum":111.46},"y":{"datum":0}}},
{"data":{"name":"macd"},"mark":{"type":"line","strokeWidth":1.3},"encoding":{"x":{"field":"i","type":"quantitative"},"y":{"field":"v","type":"quantitative"},"color":{"field":"s","type":"nominal","scale":{"domain":["ema","macd"],"range":["#3030ff","#ff2020"]},"legend":null}}},
{"data":{"name":"one"},"mark":{"type":"rect","fillOpacity":0,"stroke":"#000000","strokeWidth":1},"encoding":{"x":{"datum":-0.34},"x2":{"datum":111.46},"y":{"datum":-1402},"y2":{"datum":1089}}},
{"data":{"values":[{"v":-1350},{"v":-675},{"v":0},{"v":675}]},"mark":{"type":"text","align":"right","baseline":"middle","fontSize":12,"color":"#000000"},"encoding":{"x":{"datum":-1.54},"y":{"field":"v","type":"quantitative"},"text":{"field":"v","type":"quantitative","format":".2f"}}},
{"data":{"name":"months"},"mark":{"type":"text","baseline":"middle","fontSize":12,"color":"#000000"},"encoding":{"x":{"field":"i","type":"quantitative"},"y":{"datum":-1933},"text":{"field":"m"}}},
{"data":{"name":"one"},"mark":{"type":"text","text":"MACD(12,26)：126.75","align":"left","baseline":"middle","fontSize":11.5,"color":"#ff1a1a"},"encoding":{"x":{"datum":0.26},"y":{"datum":1337}}},
{"data":{"name":"one"},"mark":{"type":"text","text":"EMA(9)：250.65","align":"left","baseline":"middle","fontSize":11.5,"color":"#2a2aff"},"encoding":{"x":{"datum":32.5},"y":{"datum":1337}}},
{"data":{"name":"one"},"mark":{"type":"text","text":"Diff：-123.90","align":"left","baseline":"middle","fontSize":11.5,"color":"#ff1aff"},"encoding":{"x":{"datum":56.5},"y":{"datum":1337}}}
]}
]
}
